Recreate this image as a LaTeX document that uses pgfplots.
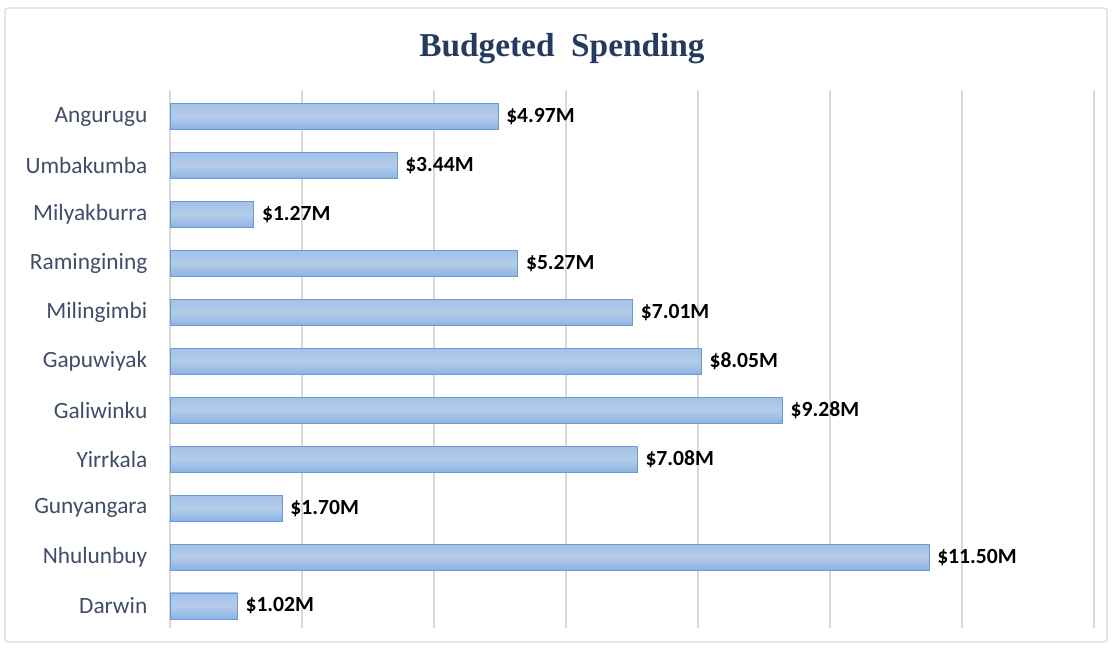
\documentclass[border=0pt]{standalone}
\usepackage{pgfplots}
\pgfplotsset{compat=1.18}
\usepackage{fontspec}
\setmainfont{Carlito}
\newfontfamily\titlefont{Liberation Serif}
\definecolor{lblcol}{HTML}{3F4D68}
\definecolor{titlecol}{HTML}{253A5E}
\definecolor{gridcol}{HTML}{D9D9D9}
\definecolor{barline}{HTML}{6A9AD4}
\definecolor{bartop}{HTML}{A3C2EA}
\definecolor{barmid}{HTML}{B5CBE7}
\definecolor{barbot}{HTML}{8AB3E6}
\pgfplotsset{mybar/.style={draw=barline, line width=0.7pt, top color=bartop, bottom color=barbot, middle color=barmid, bar shift=0pt}}
\begin{document}
\begin{tikzpicture}[x=0.75pt,y=0.75pt]
\useasboundingbox (-170,-20) rectangle (942,628);
\draw[gridcol,line width=0.8pt,rounded corners=2pt] (-165,-14) rectangle (937,620);
\begin{axis}[
  at={(0,0)}, anchor=south west,
  scale only axis, width=693pt, height=403.5pt,
  xbar, bar width=19.5pt,
  xmin=0, xmax=14, ymin=-0.55, ymax=10.45,
  y dir=reverse,
  xtick={0,2,...,14}, xticklabels={},
  major tick length=0pt,
  xmajorgrids, grid style={gridcol, line width=0.8pt},
  ytick={0,...,10},
  yticklabels={Angurugu,Umbakumba,Milyakburra,Ramingining,Milingimbi,Gapuwiyak,Galiwinku,Yirrkala,Gunyangara,Nhulunbuy,Darwin},
  yticklabel style={font=\fontsize{17.5}{20}\selectfont, text=lblcol, xshift=-13.5pt},
  axis line style={draw=none},
  nodes near coords={\$\pgfmathprintnumber[fixed,fixed zerofill,precision=2,assume math mode=true]{\pgfplotspointmeta}M},
  nodes near coords style={font=\fontsize{16.2}{18}\selectfont\bfseries, text=black, anchor=west, xshift=2.5pt},
  clip=false,
]
\addplot[mybar] coordinates {(4.97,0)};
\addplot[mybar] coordinates {(3.44,1)};
\addplot[mybar] coordinates {(1.27,2)};
\addplot[mybar] coordinates {(5.27,3)};
\addplot[mybar] coordinates {(7.01,4)};
\addplot[mybar] coordinates {(8.05,5)};
\addplot[mybar] coordinates {(9.28,6)};
\addplot[mybar] coordinates {(7.08,7)};
\addplot[mybar] coordinates {(1.70,8)};
\addplot[mybar] coordinates {(11.50,9)};
\addplot[mybar] coordinates {(1.02,10)};
\end{axis}
\node[font=\titlefont\fontsize{25}{28}\selectfont\bfseries, text=titlecol] at (392,579) {Budgeted\ \ Spending};
\end{tikzpicture}
\end{document}
